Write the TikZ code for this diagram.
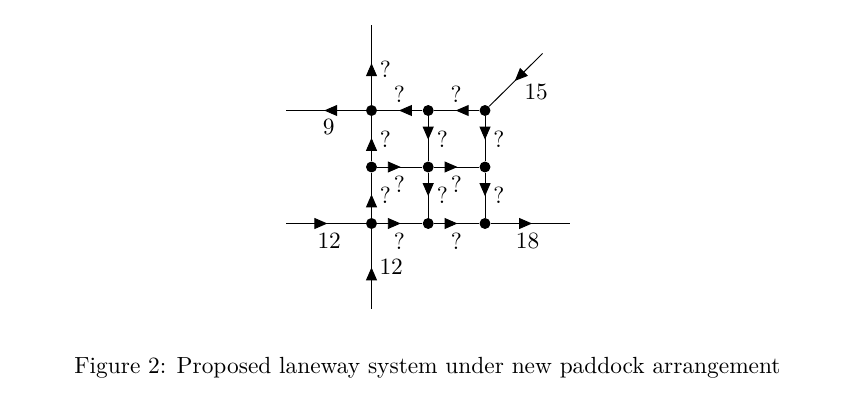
\documentclass[tikz,border=0pt]{standalone}
\usepackage{tikz}
\usetikzlibrary{arrows.meta, decorations.markings}

\begin{document}
\begin{tikzpicture}[x=0.01505cm, y=-0.01505cm,
    dot/.style={circle, fill, inner sep=0pt, minimum size=0.165cm},
    flow/.style={postaction={decorate}, decoration={markings,
        mark=at position 0.52 with {\arrow{Triangle[length=1.95mm, width=1.65mm]}}}},
    lab/.style={inner sep=0pt}
  ]
  \useasboundingbox (0,0) rectangle (844,416);

  % junctions of the laneways
  \node[dot] (n11) at (371.5,110.5) {};
  \node[dot] (n12) at (428.2,110.5) {};
  \node[dot] (n13) at (485,110.5) {};
  \node[dot] (n21) at (371.5,167) {};
  \node[dot] (n22) at (428.2,167) {};
  \node[dot] (n23) at (485,167) {};
  \node[dot] (n31) at (371.5,223.5) {};
  \node[dot] (n32) at (428.2,223.5) {};
  \node[dot] (n33) at (485,223.5) {};

  % loose ends
  \coordinate (top)   at (371.5,25);
  \coordinate (bot)   at (371.5,308.5);
  \coordinate (west9) at (286,110.5);
  \coordinate (west12) at (286,223.5);
  \coordinate (east18) at (570,223.5);
  \coordinate (ne15)  at (542.5,53.5);

  % laneways
  \draw[flow] (n11) -- (top);
  \draw[flow] (n11) -- (west9);
  \draw[flow] (n12) -- (n11);
  \draw[flow] (n13) -- (n12);
  \draw[flow] (ne15) -- (n13);
  \draw[flow] (n21) -- (n11);
  \draw[flow] (n12) -- (n22);
  \draw[flow] (n13) -- (n23);
  \draw[flow] (n21) -- (n22);
  \draw[flow] (n22) -- (n23);
  \draw[flow] (n31) -- (n21);
  \draw[flow] (n22) -- (n32);
  \draw[flow] (n23) -- (n33);
  \draw[flow] (west12) -- (n31);
  \draw[flow] (n31) -- (n32);
  \draw[flow] (n32) -- (n33);
  \draw[flow] (n33) -- (east18);
  \draw[flow] (bot) -- (n31);

  % flow labels
  \node[lab] (qtop) at (385.3,69) {?};
  \node[lab] (q1211) at (399.5,94.2) {?};
  \node[lab] (q1312) at (456.2,94.2) {?};
  \node[lab] (f15) at (536.2,91.5) {15};
  \node[lab] (f9) at (328.7,127) {9};
  \node[lab] (q2111) at (385.5,139.7) {?};
  \node[lab] (q1222) at (442.5,139.7) {?};
  \node[lab] (q1323) at (499,139.7) {?};
  \node[lab] (q2122) at (399.5,184.7) {?};
  \node[lab] (q3121) at (385.5,195.5) {?};
  \node[lab] (q2223) at (456.3,184.7) {?};
  \node[lab] (q2232) at (442.5,195.5) {?};
  \node[lab] (q2333) at (499,195.5) {?};
  \node[lab] (f12w) at (329.2,240.5) {12};
  \node[lab] (q3132) at (399.5,240.8) {?};
  \node[lab] (q3233) at (456.3,240.8) {?};
  \node[lab] (f18) at (527.5,240.5) {18};
  \node[lab] (f12s) at (391.2,266.7) {12};

  % caption
  \node[anchor=base] (cap) at (427.5,373.3)
    {Figure 2: Proposed laneway system under new paddock arrangement};
\end{tikzpicture}
\end{document}
